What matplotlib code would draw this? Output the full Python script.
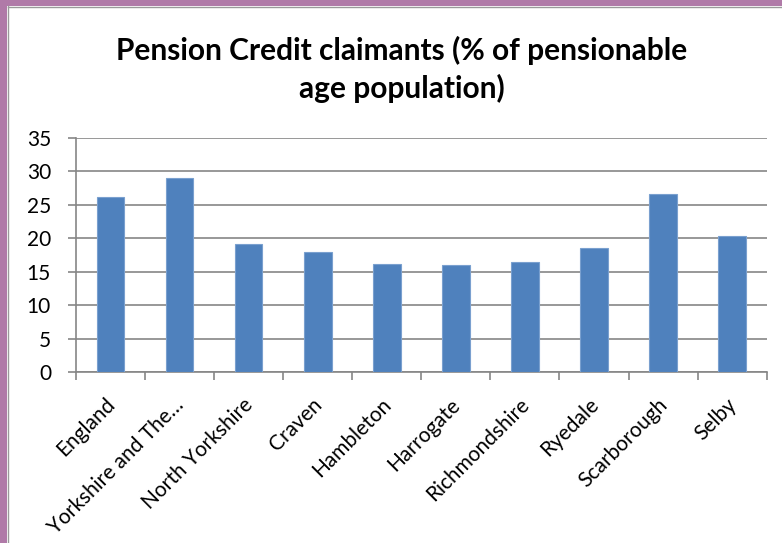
import matplotlib
matplotlib.use("Agg")
import matplotlib.pyplot as plt
from matplotlib.patches import Rectangle
import matplotlib.transforms as mtransforms
import numpy as np

categories = ["England", "Yorkshire and The…", "North Yorkshire", "Craven", "Hambleton",
              "Harrogate", "Richmondshire", "Ryedale", "Scarborough", "Selby"]
values = [26.1, 29.0, 19.1, 18.0, 16.2, 16.0, 16.4, 18.5, 26.6, 20.3]
yticks = [0, 5, 10, 15, 20, 25, 30, 35]

plt.rcParams['font.family'] = ['Lato', 'DejaVu Sans']

W, H = 782, 543
fig = plt.figure(figsize=(W/100, H/100), dpi=100)
fig.patch.set_facecolor('white')

# purple frame (left and top)
fig.patches.append(Rectangle((0, 0), 7/W, 1, transform=fig.transFigure,
                             facecolor='#b07aa8', edgecolor='none', zorder=0))
fig.patches.append(Rectangle((0, 1-6/H), 1, 6/H, transform=fig.transFigure,
                             facecolor='#b07aa8', edgecolor='none', zorder=0))
fig.lines.append(plt.Line2D([7.5/W, 7.5/W], [0, 1-6/H], transform=fig.transFigure,
                            color='#9a9a9a', lw=1))
fig.lines.append(plt.Line2D([7.5/W, 1], [1-6.5/H, 1-6.5/H], transform=fig.transFigure,
                            color='#9a9a9a', lw=1))

left, right = 76/W, 766.7/W
bottom, top = 1-372.3/H, 1-137.7/H
ax = fig.add_axes([left, bottom, right-left, top-bottom])

x = np.arange(len(categories))
ax.bar(x, values, width=0.4, color='#4f81bd', edgecolor='#7aa0cf', linewidth=0.8, zorder=3)

ax.set_xlim(-0.5, len(categories)-0.5)
ax.set_ylim(0, 35)
ax.set_yticks(yticks)
ax.set_yticklabels([str(t) for t in yticks], fontsize=15)
ax.yaxis.grid(True, color='#868686', linewidth=1.2, zorder=0)
ax.set_axisbelow(True)

for s in ['top', 'right']:
    ax.spines[s].set_visible(False)
for s in ['left', 'bottom']:
    ax.spines[s].set_color('#868686')
    ax.spines[s].set_linewidth(1.2)

ax.tick_params(axis='y', length=6, width=1.2, color='#868686', pad=12)
ax.set_xticks(np.arange(-0.5, len(categories)), minor=False)
ax.set_xticklabels([])
ax.tick_params(axis='x', length=6, width=1.2, color='#868686')
ax.set_xticks(x, minor=True)
labels = ax.set_xticklabels(categories, minor=True, rotation=45, ha='right', va='top',
                            rotation_mode='anchor', fontsize=15)
ax.tick_params(axis='x', which='minor', length=0, pad=16)
offset = mtransforms.ScaledTranslation(-6/100, 0, fig.dpi_scale_trans)
for lab in labels:
    lab.set_transform(lab.get_transform() + offset)

fig.text(402/W, 1-50/H, "Pension Credit claimants (% of pensionable",
         ha='center', va='center', fontsize=21.5, fontweight='bold')
fig.text(402/W, 1-88/H, "age population)",
         ha='center', va='center', fontsize=21.5, fontweight='bold')

fig.savefig("out.png", dpi=100)
